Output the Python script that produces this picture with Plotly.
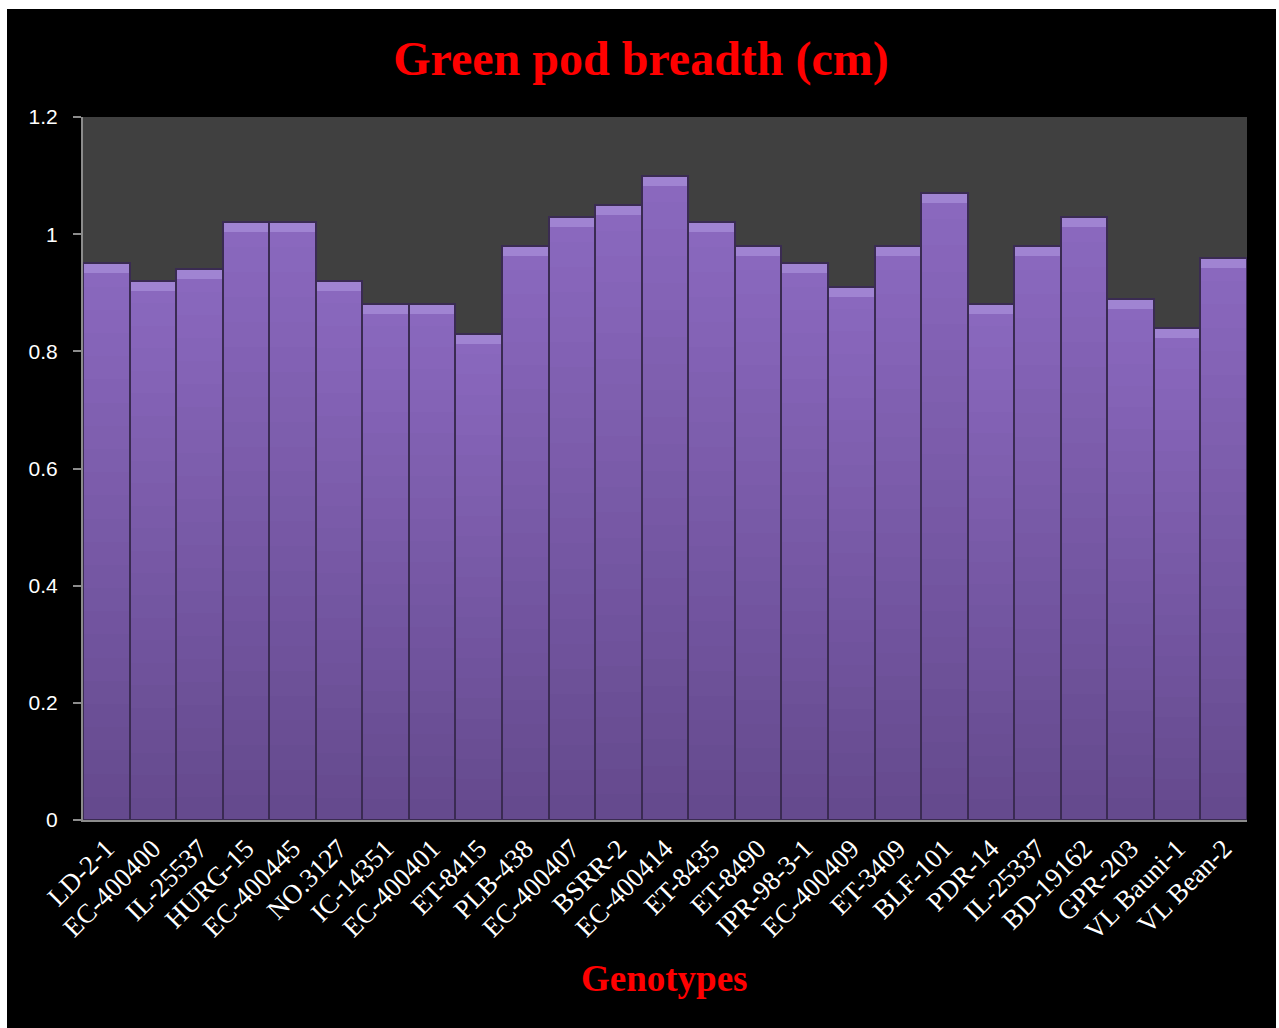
import plotly.graph_objects as go

# Genotypes and their green pod breadth (cm)
genotypes = [
    "LD-2-1", "EC-400400", "IL-25537", "HURG-15", "EC-400445", "NO.3127",
    "IC-14351", "EC-400401", "ET-8415", "PLB-438", "EC-400407", "BSRR-2",
    "EC-400414", "ET-8435", "ET-8490", "IPR-98-3-1", "EC-400409", "ET-3409",
    "BLF-101", "PDR-14", "IL-25337", "BD-19162", "GPR-203", "VL Bauni-1",
    "VL Bean-2",
]
pod_breadth = [
    0.95, 0.92, 0.94, 1.02, 1.02, 0.92, 0.88, 0.88, 0.83, 0.98, 1.03, 1.05,
    1.10, 1.02, 0.98, 0.95, 0.91, 0.98, 1.07, 0.88, 0.98, 1.03, 0.89, 0.84,
    0.96,
]
y_ticks = [0, 0.2, 0.4, 0.6, 0.8, 1.0, 1.2]
y_tick_text = ["0", "0.2", "0.4", "0.6", "0.8", "1", "1.2"]

W, H = 1279, 1028
L, R, T, B = 83, 32, 117, 208
pw, ph = W - L - R, H - T - B

BOTTOM_RGB = (101, 74, 142)
TOP_RGB = (138, 104, 190)
N_BANDS = 24


def blend(t):
    r, g, b = (round(a + (c - a) * t) for a, c in zip(BOTTOM_RGB, TOP_RGB))
    return f"rgb({r},{g},{b})"


fig = go.Figure()

# vertical shading: each bar is filled with bands running dark -> light
for k in range(N_BANDS):
    stretch = 1.05 if k < N_BANDS - 1 else 1.0
    fig.add_trace(go.Bar(
        x=genotypes,
        y=[v / N_BANDS * stretch for v in pod_breadth],
        base=[v * k / N_BANDS for v in pod_breadth],
        marker=dict(color=blend(k / (N_BANDS - 1)), line=dict(width=0)),
        hoverinfo="skip", showlegend=False,
    ))

# lighter bevelled top of each bar
cap = 0.017
fig.add_trace(go.Bar(
    x=genotypes, y=[cap] * len(pod_breadth),
    base=[v - cap for v in pod_breadth],
    marker=dict(color="#a084d2", line=dict(width=0)),
    hoverinfo="skip", showlegend=False,
))

# dark outline around each bar
fig.add_trace(go.Bar(
    x=genotypes, y=pod_breadth,
    hovertemplate="%{x}: %{y}<extra></extra>",
    marker=dict(color="rgba(0,0,0,0)", line=dict(color="#3a2b52", width=2)),
    showlegend=False,
))

# black frame and dark plotting area
fig.add_shape(type="rect", xref="paper", yref="paper",
              x0=(7 - L) / pw, x1=(1276 - L) / pw,
              y0=-0.4, y1=(H - B - 9) / ph,
              fillcolor="black", line_width=0, layer="below")
fig.add_shape(type="rect", xref="paper", yref="paper",
              x0=0, x1=1, y0=0, y1=1,
              fillcolor="#404040", line_width=0, layer="below")

fig.add_annotation(
    text="<b>Genotypes</b>", xref="paper", yref="paper",
    x=(664 - L) / pw, y=(H - B - 978) / ph, yanchor="middle", xanchor="center",
    showarrow=False,
    font=dict(family="Liberation Serif", size=37, color="#ff0000"),
)

fig.update_layout(
    width=W, height=H,
    margin=dict(l=L, r=R, t=T, b=B),
    paper_bgcolor="white",
    plot_bgcolor="rgba(0,0,0,0)",
    barmode="overlay",
    bargap=0.0,
    title=dict(
        text="<b>Green pod breadth (cm)</b>",
        x=641 / W, xanchor="center",
        y=1 - 58 / H, yanchor="middle", yref="container",
        font=dict(family="Liberation Serif", size=48, color="#ff0000"),
    ),
    xaxis=dict(
        tickangle=-45,
        tickfont=dict(family="Liberation Serif", size=27, color="white"),
        showline=True, linecolor="#8c8c8c", linewidth=2,
        showgrid=False, ticks="",
    ),
    yaxis=dict(
        range=[0, 1.2],
        tickvals=y_ticks, ticktext=y_tick_text,
        tickfont=dict(family="Liberation Sans", size=21, color="white"),
        showline=True, linecolor="#8c8c8c", linewidth=2,
        ticks="outside", ticklen=8, tickcolor="#8c8c8c", tickwidth=2,
        showgrid=False, zeroline=False,
        ticklabelstandoff=11,
    ),
)

fig.write_html("out.html")
